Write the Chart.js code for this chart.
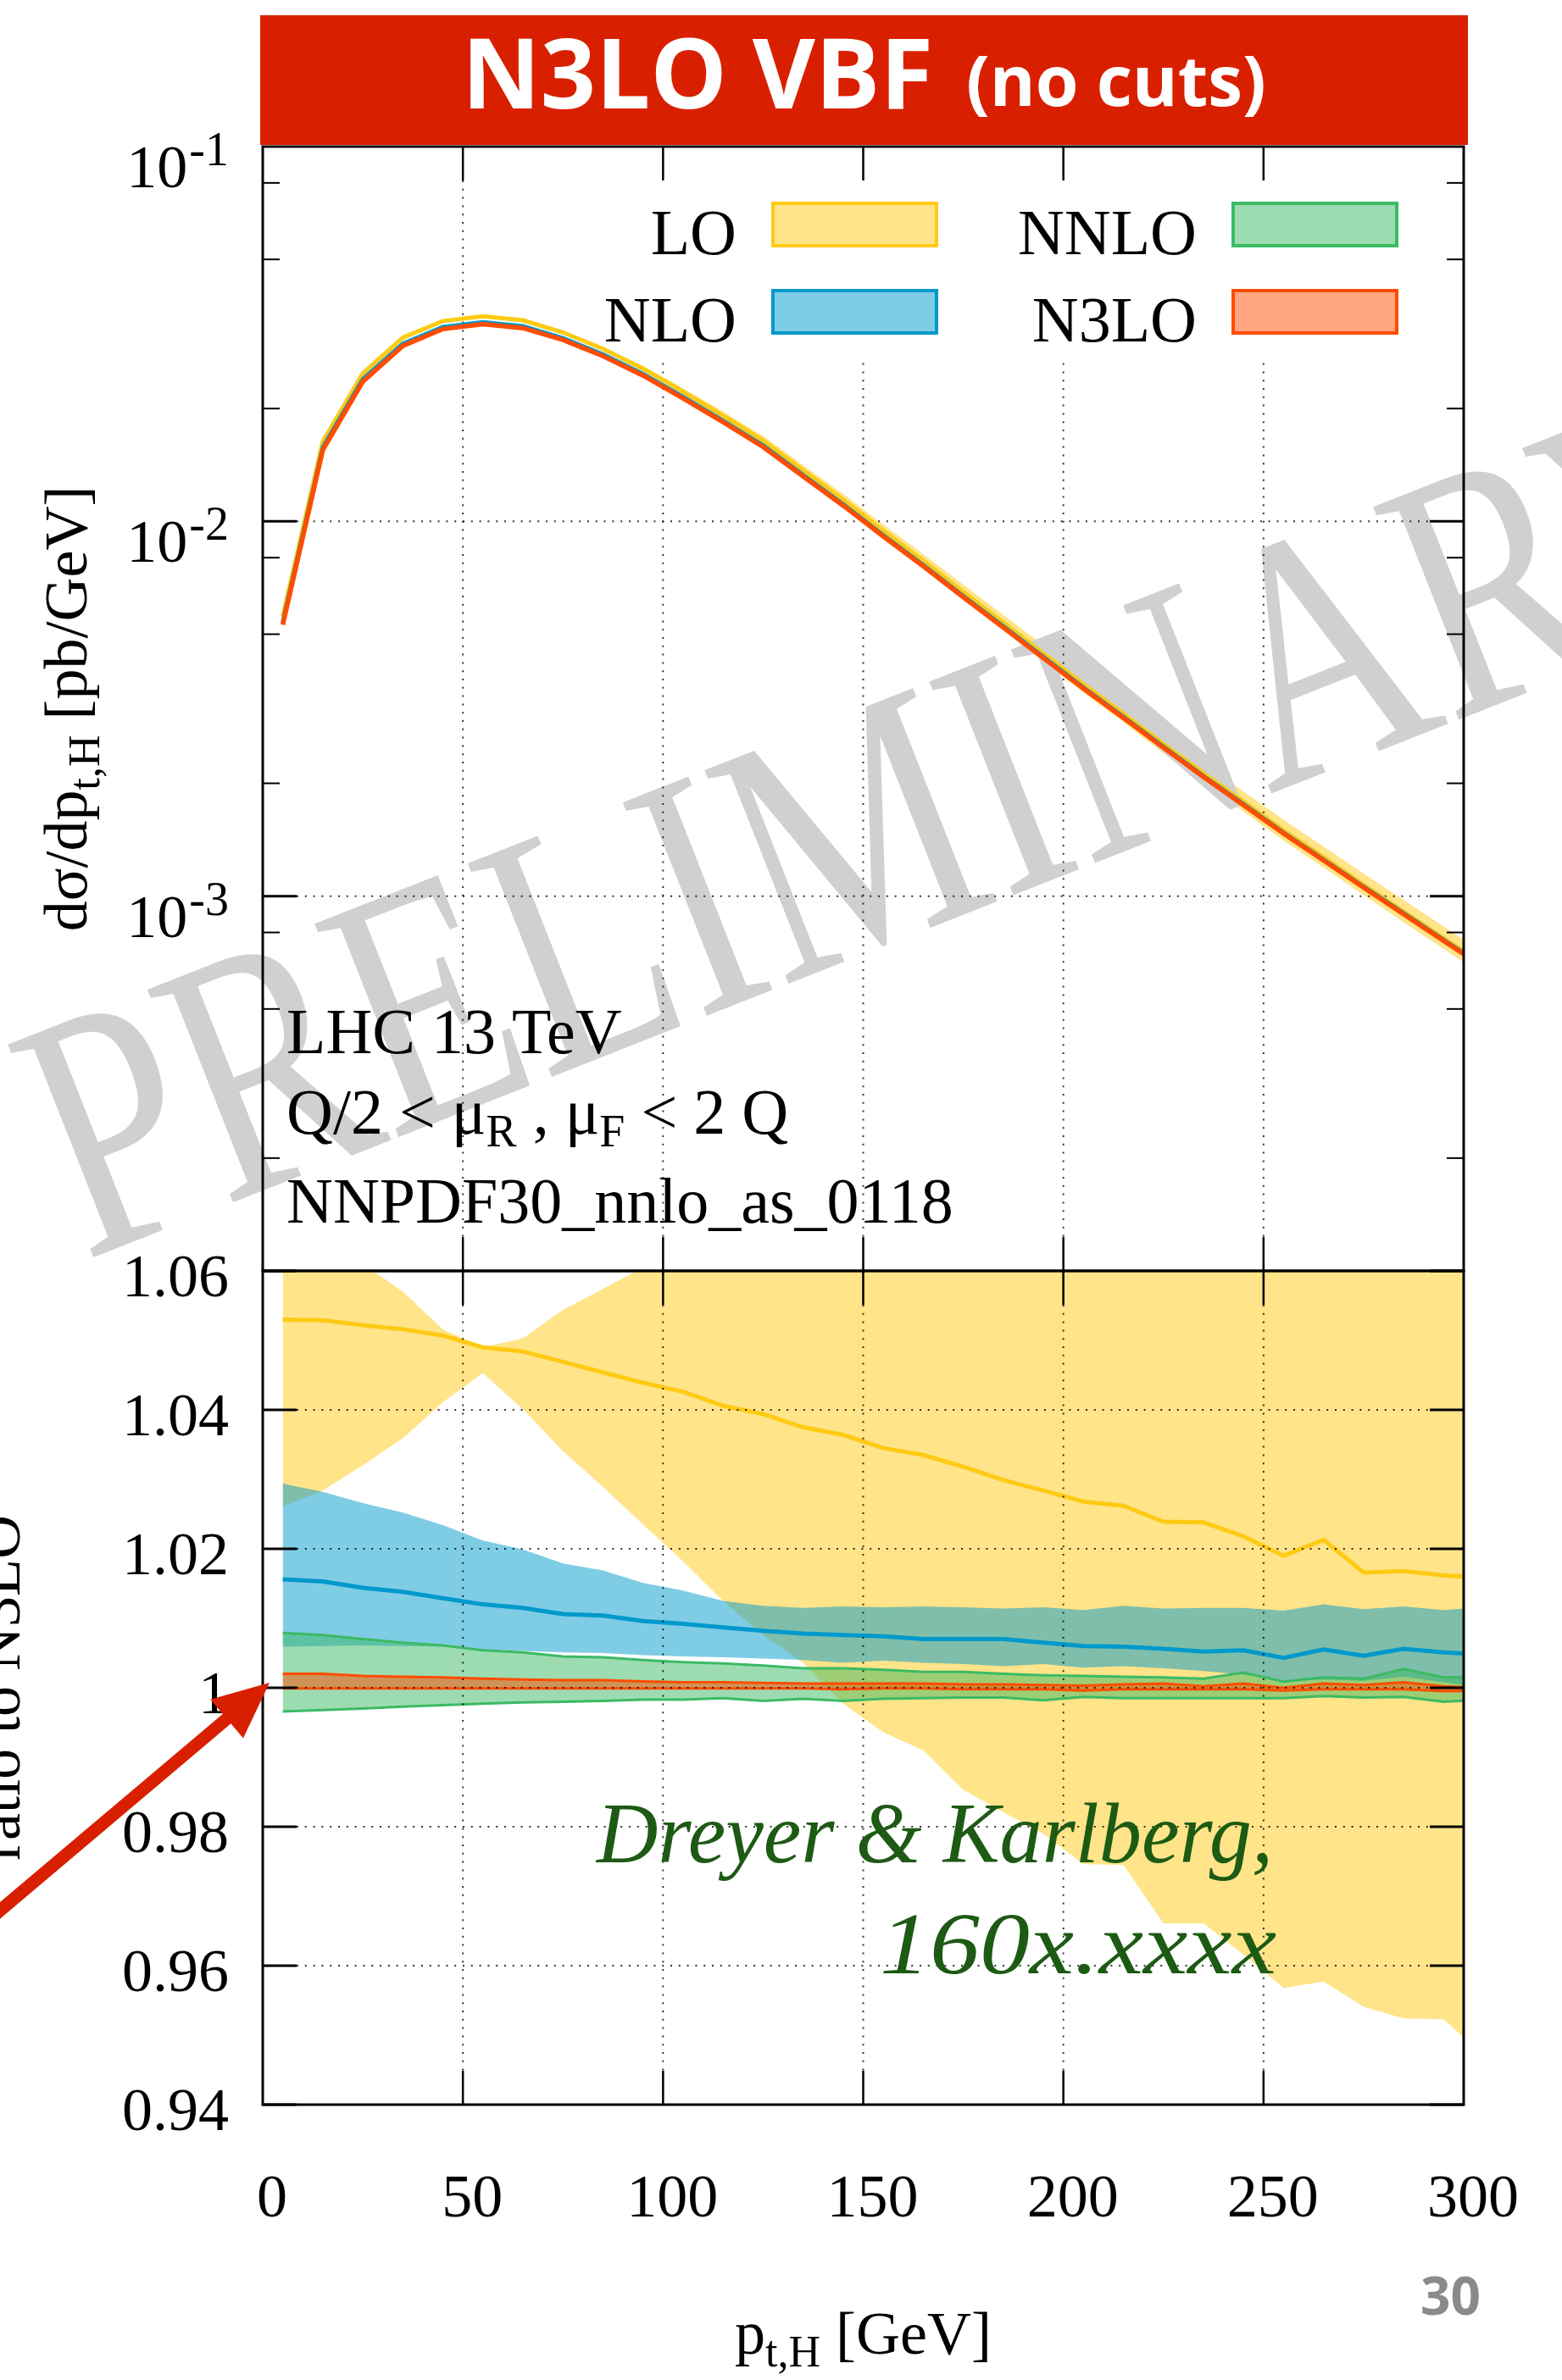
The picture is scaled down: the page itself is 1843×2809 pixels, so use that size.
<!DOCTYPE html>
<html>
<head>
<meta charset="utf-8">
<script src="https://cdn.jsdelivr.net/npm/chart.js@4.4.1/dist/chart.umd.min.js"></script>
<style>
  html, body { margin: 0; padding: 0; background: #fff; }
  body { width: 1843px; height: 2809px; position: relative; overflow: hidden; }
  canvas { position: absolute; left: 0; }
  #top { top: 0; }
  #ratio { top: 1440px; }
</style>
</head>
<body>
<canvas id="top" width="1843" height="1600"></canvas>
<canvas id="ratio" width="1843" height="1369"></canvas>
<script>
// pT bin centres [GeV]
const ptBins = [5, 15, 25, 35, 45, 55, 65, 75, 85, 95, 105, 115, 125, 135, 145, 155,
  165, 175, 185, 195, 205, 215, 225, 235, 245, 255, 265, 275, 285, 295, 305];

// N3LO central, dsigma/dpt,H [pb/GeV]
const n3loXs = [0.0053, 0.0155, 0.0236, 0.0294, 0.0326, 0.0336, 0.0328, 0.0305, 0.0276, 0.0245,
  0.0213, 0.0184, 0.0158, 0.01318, 0.01102, 0.00912, 0.00759, 0.00628, 0.00521, 0.00432,
  0.00358, 0.00299, 0.00249, 0.00208, 0.00175, 0.00147, 0.001245, 0.001054, 0.000895, 0.00076, 0.000646];

// everything below is a ratio to N3LO central
const loRatio = [1.0530, 1.0529, 1.0522, 1.0516, 1.0507, 1.0490, 1.0484, 1.0469, 1.0454, 1.0439,
  1.0426, 1.0406, 1.0394, 1.0375, 1.0364, 1.0345, 1.0335, 1.0318, 1.0299, 1.0284,
  1.0268, 1.0262, 1.0239, 1.0238, 1.0218, 1.0190, 1.0213, 1.0166, 1.0168, 1.0162, 1.0158];
const loLow = [1.0261, 1.0284, 1.0320, 1.0359, 1.0411, 1.0453, 1.0401, 1.0341, 1.0289, 1.0235,
  1.0182, 1.0125, 1.0076, 1.0036, 0.9977, 0.9936, 0.9910, 0.9853, 0.9821, 0.9790,
  0.9746, 0.9745, 0.9661, 0.9661, 0.9616, 0.9568, 0.9577, 0.9541, 0.9524, 0.9523, 0.9470];
const loHigh = [1.075, 1.068, 1.061, 1.0570, 1.0516, 1.0490, 1.0503, 1.0544, 1.0574, 1.0605,
  1.064, 1.067, 1.070, 1.072, 1.074, 1.076, 1.078, 1.079, 1.080, 1.082,
  1.083, 1.084, 1.085, 1.086, 1.087, 1.088, 1.089, 1.090, 1.091, 1.092, 1.093];

const nloRatio = [1.0156, 1.0153, 1.0144, 1.0138, 1.0129, 1.0120, 1.0115, 1.0106, 1.0104, 1.0096,
  1.0092, 1.0087, 1.0082, 1.0078, 1.0076, 1.0074, 1.0070, 1.0070, 1.0070, 1.0065,
  1.0060, 1.0059, 1.0056, 1.0052, 1.0054, 1.0043, 1.0055, 1.0046, 1.0056, 1.0051, 1.0048];
const nloLow = [1.0059, 1.0060, 1.0061, 1.0060, 1.0059, 1.0055, 1.0053, 1.0051, 1.0050, 1.0047,
  1.0045, 1.0044, 1.0042, 1.0040, 1.0036, 1.0039, 1.0036, 1.0034, 1.0031, 1.0034,
  1.0029, 1.0031, 1.0028, 1.0024, 1.0019, 1.0010, 1.0012, 1.0010, 1.0016, 1.0008, 1.0000];
const nloHigh = [1.0294, 1.0282, 1.0266, 1.0252, 1.0234, 1.0212, 1.0199, 1.0179, 1.0169, 1.0151,
  1.0140, 1.0125, 1.0118, 1.0115, 1.0117, 1.0116, 1.0117, 1.0116, 1.0114, 1.0116,
  1.0112, 1.0118, 1.0114, 1.0115, 1.0115, 1.0111, 1.0120, 1.0113, 1.0117, 1.0112, 1.0116];

const nnloLow = [0.9966, 0.9968, 0.9970, 0.9973, 0.9975, 0.9977, 0.9979, 0.9980, 0.9981, 0.9983,
  0.9983, 0.9985, 0.9981, 0.9984, 0.9981, 0.9984, 0.9985, 0.9986, 0.9986, 0.9982,
  0.9987, 0.9985, 0.9985, 0.9985, 0.9985, 0.9985, 0.9988, 0.9986, 0.9987, 0.9980, 0.9983];
const nnloHigh = [1.0079, 1.0076, 1.0070, 1.0065, 1.0061, 1.0054, 1.0051, 1.0045, 1.0044, 1.0040,
  1.0037, 1.0035, 1.0032, 1.0028, 1.0028, 1.0026, 1.0023, 1.0023, 1.0020, 1.0018,
  1.0017, 1.0016, 1.0015, 1.0013, 1.0022, 1.0009, 1.0015, 1.0013, 1.0027, 1.0015, 1.0015];

const n3loLow = [0.9999, 0.9999, 0.9999, 0.9999, 0.9999, 0.9999, 0.9999, 0.9999, 0.9999, 0.9999,
  0.9999, 0.9999, 0.9999, 0.9999, 0.9998, 0.9999, 0.9999, 0.9998, 0.9998, 0.9998,
  0.9996, 0.9998, 0.9998, 0.9998, 0.9998, 0.9996, 0.9998, 0.9998, 0.9998, 0.9995, 0.9996];
const n3loHigh = [1.0020, 1.0020, 1.0017, 1.0016, 1.0015, 1.0013, 1.0012, 1.0011, 1.0011, 1.0009,
  1.0008, 1.0008, 1.0007, 1.0006, 1.0006, 1.0006, 1.0006, 1.0005, 1.0005, 1.0004,
  1.0003, 1.0005, 1.0006, 1.0002, 1.0006, 1.0000, 1.0006, 1.0004, 1.0008, 1.0002, 1.0000];

const orders = ['LO', 'NLO', 'NNLO', 'N3LO'];
const xTicks = [0, 50, 100, 150, 200, 250, 300];
const topDecades = [1e-1, 1e-2, 1e-3];
const topDecadeLabels = [['10', '-1'], ['10', '-2'], ['10', '-3']];
const ratioTicks = [0.94, 0.96, 0.98, 1, 1.02, 1.04, 1.06];
const ratioTickLabels = ['0.94', '0.96', '0.98', '1', '1.02', '1.04', '1.06'];

const COL = { LO: '255,202,20', NLO: '0,153,204', NNLO: '60,186,100', N3LO: '255,76,0' };
const rgb = k => 'rgb(' + COL[k] + ')';
const rgba = (k, a) => 'rgba(' + COL[k] + ',' + a + ')';
const SERIF = '"Liberation Serif", "Times New Roman", serif';
const SANS = '"Open Sans", Roboto, sans-serif';
const RED = '#d82000';

const pts = arr => ptBins.map((p, i) => ({ x: p, y: arr[i] }));

// top panel curves = N3LO x ratio
const scaleBy = r => n3loXs.map((v, i) => v * r[i]);

function bandSets(lo, hi, key, edge, order) {
  const bc = edge ? rgb(key) : 'rgba(0,0,0,0)';
  return [
    { data: pts(lo), borderWidth: edge, borderColor: bc, fill: false, order: order, clip: 0 },
    { data: pts(hi), borderWidth: edge, borderColor: bc, backgroundColor: rgba(key, 0.5), fill: '-1', order: order, clip: 0 }
  ];
}
function lineSet(arr, key, w, order) {
  return { data: pts(arr), borderWidth: w, borderColor: rgb(key), fill: false, order: order, clip: 0 };
}

function drawRich(ctx, parts, x, y, align, family) {
  family = family || SERIF;
  let w = 0;
  for (const p of parts) { ctx.font = (p[3] || '') + p[1] + 'px ' + family; w += ctx.measureText(p[0]).width; }
  let cx = align === 'center' ? x - w / 2 : (align === 'right' ? x - w : x);
  ctx.textAlign = 'left';
  ctx.textBaseline = 'alphabetic';
  for (const p of parts) {
    ctx.font = (p[3] || '') + p[1] + 'px ' + family;
    ctx.fillText(p[0], cx, y + (p[2] || 0));
    cx += ctx.measureText(p[0]).width;
  }
  return w;
}

// text squeezed/stretched to a given width (right-aligned at x)
function fitText(ctx, txt, font, xRight, y, width) {
  ctx.save();
  ctx.font = font;
  const w = ctx.measureText(txt).width;
  ctx.translate(xRight - width, y);
  ctx.scale(width / w, 1);
  ctx.textAlign = 'left';
  ctx.textBaseline = 'alphabetic';
  ctx.fillText(txt, 0, 0);
  ctx.restore();
}

function dotted(ctx, x1, y1, x2, y2) {
  ctx.save();
  ctx.strokeStyle = 'rgba(0,0,0,0.8)';
  ctx.lineWidth = 2;
  ctx.setLineDash([2, 7.8]);
  ctx.beginPath(); ctx.moveTo(x1, y1); ctx.lineTo(x2, y2); ctx.stroke();
  ctx.restore();
}
function solid(ctx, x1, y1, x2, y2, w) {
  ctx.save();
  ctx.strokeStyle = '#000';
  ctx.lineWidth = w;
  ctx.beginPath(); ctx.moveTo(x1, y1); ctx.lineTo(x2, y2); ctx.stroke();
  ctx.restore();
}

function drawFrame(ctx, a, x, yPix) {
  xTicks.slice(1, -1).forEach(v => {
    const px = x.getPixelForValue(v);
    solid(ctx, px, a.top, px, a.top + 40, 2.5);
    solid(ctx, px, a.bottom - 40, px, a.bottom, 2.5);
  });
  yPix.forEach(([py, len, w]) => {
    solid(ctx, a.left, py, a.left + len, py, w);
    solid(ctx, a.right - len, py, a.right, py, w);
  });
  ctx.save();
  ctx.strokeStyle = '#000';
  ctx.lineWidth = 3;
  ctx.strokeRect(a.left, a.top, a.right - a.left, a.bottom - a.top);
  ctx.restore();
}

const topPlugin = {
  id: 'topDecor',
  beforeDatasetsDraw(chart) {
    const { ctx, chartArea: a, scales: { x, y } } = chart;
    // PRELIMINARY stamp
    ctx.save();
    ctx.translate(100, 1488);
    ctx.rotate(-21.5 * Math.PI / 180);
    ctx.scale(1, 1.3);
    ctx.fillStyle = '#d0d0d0';
    ctx.font = '318px ' + SERIF;
    ctx.textBaseline = 'alphabetic';
    ctx.fillText('PRELIMINARY', 0, 0);
    ctx.restore();

    xTicks.slice(1, -1).forEach(v => {
      const px = x.getPixelForValue(v);
      dotted(ctx, px, a.top + 40, px, a.bottom - 40);
    });
    topDecades.filter(v => v < 1e-1 && v > 1e-4).forEach(v => {
      const py = y.getPixelForValue(v);
      dotted(ctx, a.left + 40, py, a.right - 40, py);
    });

    // legend
    ctx.save();
    ctx.fillStyle = '#fff';
    ctx.fillRect(700, 213, 1000, 211);
    const cols = [[869, 910], [1412, 1453]];
    const rows = [[300, 238], [403, 341]];
    orders.forEach((k, i) => {
      const c = cols[Math.floor(i / 2)], r = rows[i % 2];
      ctx.fillStyle = '#000';
      drawRich(ctx, [[k, 76]], c[0], r[0], 'right');
      ctx.fillStyle = rgba(k, 0.5);
      ctx.fillRect(c[1], r[1], 197, 54);
      ctx.strokeStyle = rgb(k);
      ctx.lineWidth = 4;
      ctx.strokeRect(c[1] + 2, r[1] + 2, 193, 50);
    });
    ctx.restore();
  },
  afterDatasetsDraw(chart) {
    const { ctx, chartArea: a, scales: { x, y } } = chart;
    const yPix = [];
    [1e-4, 1e-3, 1e-2].forEach(d => {
      yPix.push([y.getPixelForValue(d), 40, 3]);
      [2, 5, 8].forEach(m => yPix.push([y.getPixelForValue(d * m), 20, 2]));
    });
    drawFrame(ctx, a, x, yPix);

    ctx.save();
    ctx.fillStyle = '#000';
    drawRich(ctx, [['LHC 13 TeV', 76]], 338, 1243, 'left');
    drawRich(ctx, [['Q/2 < μ', 76], ['R', 54, 15], [' , μ', 76], ['F', 54, 15], [' < 2 Q', 76]], 338, 1338, 'left');
    drawRich(ctx, [['NNPDF30_nnlo_as_0118', 76]], 338, 1443, 'left');

    // log axis labels
    topDecades.forEach((v, i) => {
      const py = y.getPixelForValue(v);
      ctx.font = '56px ' + SERIF;
      const sw = ctx.measureText(topDecadeLabels[i][1]).width;
      drawRich(ctx, [[topDecadeLabels[i][1], 56]], 270, py + 22, 'right');
      drawRich(ctx, [[topDecadeLabels[i][0], 72]], 268 - sw, py + 48, 'right');
    });

    // y title
    ctx.translate(102, (a.top + a.bottom) / 2);
    ctx.rotate(-Math.PI / 2);
    drawRich(ctx, [['dσ/dp', 72], ['t,H', 52, 15], [' [pb/GeV]', 72]], 0, 0, 'center');
    ctx.restore();
  },
  afterDraw(chart) {
    const ctx = chart.ctx;
    ctx.save();
    ctx.fillStyle = RED;
    ctx.fillRect(307, 18, 1425, 153);
    ctx.fillStyle = '#fff';
    ctx.font = 'bold 114px ' + SANS;
    const w1 = ctx.measureText('N3LO VBF').width;
    ctx.font = 'bold 82px ' + SANS;
    const w2 = ctx.measureText('(no cuts)').width;
    const x0 = 1019.5 - (w1 + 39 + w2) / 2;
    ctx.textAlign = 'left';
    ctx.textBaseline = 'alphabetic';
    ctx.font = 'bold 114px ' + SANS;
    ctx.fillText('N3LO VBF', x0, 128);
    ctx.font = 'bold 82px ' + SANS;
    ctx.fillText('(no cuts)', x0 + w1 + 39, 125);
    ctx.restore();
  }
};

const OFF = 1440;
const ratioPlugin = {
  id: 'ratioDecor',
  afterDatasetsDraw(chart) {
    const { ctx, chartArea: a, scales: { x, y } } = chart;
    xTicks.slice(1, -1).forEach(v => {
      const px = x.getPixelForValue(v);
      dotted(ctx, px, a.top + 40, px, a.bottom - 40);
    });
    ratioTicks.slice(1, -1).forEach(v => {
      const py = y.getPixelForValue(v);
      dotted(ctx, a.left + 40, py, a.right - 40, py);
    });
    drawFrame(ctx, a, x, ratioTicks.map(v => [y.getPixelForValue(v), 40, 3]));

    ctx.save();
    ctx.fillStyle = '#1d5a14';
    fitText(ctx, 'Dreyer & Karlberg,', 'italic 102px ' + SERIF, 1502, 2198 - OFF, 798);
    fitText(ctx, '160x.xxxx', 'italic 104px ' + SERIF, 1506, 2329 - OFF, 468);
    ctx.restore();
  },
  afterDraw(chart) {
    const { ctx, chartArea: a } = chart;
    ctx.save();
    ctx.fillStyle = '#000';
    drawRich(ctx, [['p', 72], ['t,H', 52, 15], [' [GeV]', 72]], (a.left + a.right) / 2, 2778 - OFF, 'center');
    ctx.save();
    ctx.translate(23, (a.top + a.bottom) / 2);
    ctx.rotate(-Math.PI / 2);
    drawRich(ctx, [['ratio to N3LO', 72]], 0, 0, 'center');
    ctx.restore();

    ctx.fillStyle = '#8a8a8a';
    ctx.font = 'bold 62px ' + SANS;
    ctx.textAlign = 'right';
    ctx.fillText('30', 1747, 2732 - OFF);

    // red arrow pointing at 1
    const tip = [318, 1986 - OFF], tail = [-12, 2265 - OFF];
    const dx = tip[0] - tail[0], dy = tip[1] - tail[1], L = Math.hypot(dx, dy);
    const ux = dx / L, uy = dy / L, nx = -uy, ny = ux;
    const hl = 66, hw = 30, sw = 7.5;
    const bx = tip[0] - ux * hl, by = tip[1] - uy * hl;
    ctx.fillStyle = RED;
    ctx.beginPath();
    ctx.moveTo(tail[0] + nx * sw, tail[1] + ny * sw);
    ctx.lineTo(bx + nx * sw, by + ny * sw);
    ctx.lineTo(bx + nx * hw, by + ny * hw);
    ctx.lineTo(tip[0], tip[1]);
    ctx.lineTo(bx - nx * hw, by - ny * hw);
    ctx.lineTo(bx - nx * sw, by - ny * sw);
    ctx.lineTo(tail[0] - nx * sw, tail[1] - ny * sw);
    ctx.closePath();
    ctx.fill();
    ctx.restore();
  }
};

const common = {
  responsive: false,
  animation: false,
  devicePixelRatio: 1,
  events: [],
  elements: { point: { radius: 0 }, line: { tension: 0 } },
  plugins: {
    legend: { display: false },
    tooltip: { enabled: false },
    filler: { propagate: false, drawTime: 'beforeDatasetsDraw' }
  }
};

new Chart(document.getElementById('top'), {
  type: 'line',
  data: {
    datasets: [
      ...bandSets(scaleBy(loLow), scaleBy(loHigh), 'LO', 0, 10),
      ...bandSets(scaleBy(nloLow), scaleBy(nloHigh), 'NLO', 0, 9),
      lineSet(scaleBy(loRatio), 'LO', 5, 4),
      lineSet(scaleBy(nloRatio), 'NLO', 5, 3),
      lineSet(n3loXs, 'N3LO', 5.5, 1)
    ]
  },
  options: Object.assign({}, common, {
    layout: { padding: { left: 310, right: 116, top: 173, bottom: 100 } },
    scales: {
      x: { type: 'linear', min: 0, max: 300, display: false },
      y: { type: 'logarithmic', min: 1e-4, max: 1e-1, display: false }
    }
  }),
  plugins: [topPlugin]
});

const noPad = s => { s.paddingTop = 0; s.paddingBottom = 0; s.paddingLeft = 0; s.paddingRight = 0; };
const tickFont = { family: SERIF, size: 72 };
new Chart(document.getElementById('ratio'), {
  type: 'line',
  data: {
    datasets: [
      ...bandSets(loLow, loHigh, 'LO', 0, 10),
      ...bandSets(nloLow, nloHigh, 'NLO', 0, 9),
      ...bandSets(nnloLow, nnloHigh, 'NNLO', 3, 8),
      ...bandSets(n3loLow, n3loHigh, 'N3LO', 3, 7),
      lineSet(loRatio, 'LO', 5, 4),
      lineSet(nloRatio, 'NLO', 5, 3)
    ]
  },
  options: Object.assign({}, common, {
    layout: { padding: { left: 0, right: 116, top: 60, bottom: 0 } },
    scales: {
      x: {
        type: 'linear', min: 0, max: 300,
        afterBuildTicks: s => { s.ticks = xTicks.map(v => ({ value: v })); },
        afterFit: s => { s.height = 325; noPad(s); },
        ticks: { font: tickFont, color: '#000', padding: 70, labelOffset: 11, maxRotation: 0, autoSkip: false,
          callback: v => String(v) },
        grid: { display: false, drawTicks: false },
        border: { display: false }
      },
      y: {
        type: 'linear', min: 0.94, max: 1.06,
        afterBuildTicks: s => { s.ticks = ratioTicks.map(v => ({ value: v })); },
        afterFit: s => { s.width = 310; noPad(s); },
        ticks: { font: tickFont, color: '#000', padding: 40, labelOffset: 11, autoSkip: false,
          callback: (v, i) => ratioTickLabels[i] },
        grid: { display: false, drawTicks: false },
        border: { display: false }
      }
    }
  }),
  plugins: [ratioPlugin]
});
</script>
</body>
</html>
